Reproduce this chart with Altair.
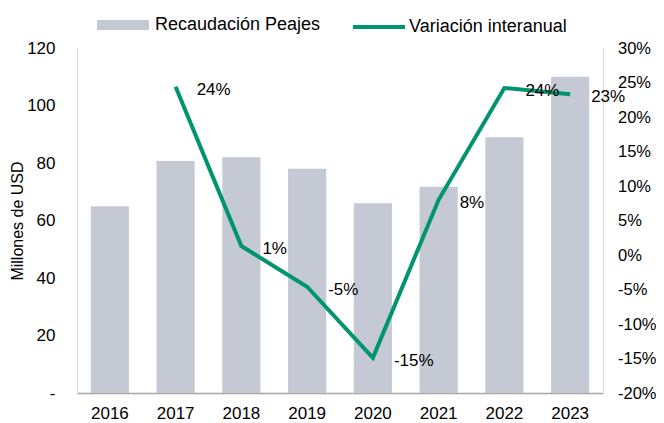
import altair as alt
import pandas as pd

years = ["2016", "2017", "2018", "2019", "2020", "2021", "2022", "2023"]
recaudacion = [65, 80.7, 82, 78, 66, 71.7, 89, 110]
var_years = ["2017", "2018", "2019", "2020", "2021", "2022", "2023"]
variacion = [0.244, 0.013, -0.046, -0.149, 0.08, 0.242, 0.233]
var_labels = ["24%", "1%", "-5%", "-15%", "8%", "24%", "23%"]
left_ticks = [0, 20, 40, 60, 80, 100, 120]
right_ticks = [-0.2, -0.15, -0.1, -0.05, 0, 0.05, 0.1, 0.15, 0.2, 0.25, 0.3]

bar_df = pd.DataFrame({"year": years, "value": recaudacion, "serie": "Recaudación Peajes"})
line_df = pd.DataFrame({"year": var_years, "var": variacion, "label": var_labels,
                        "serie": "Variación interanual"})

FONT = "Liberation Sans"
BAR_COLOR = "#c5c9d4"
LINE_COLOR = "#00956f"

x_enc = alt.X("year:N", sort=years, title=None,
              scale=alt.Scale(paddingInner=0.42, paddingOuter=0.21),
              axis=alt.Axis(labelAngle=0, labelFontSize=17, labelPadding=12, ticks=False,
                            domainColor="#a6a6a6", domainWidth=1.5, labelColor="#000000"))

bars = alt.Chart(bar_df).mark_bar(color=BAR_COLOR).encode(
    x=x_enc,
    y=alt.Y("value:Q", title="Millones de USD",
            scale=alt.Scale(domain=[0, 120]),
            axis=alt.Axis(values=left_ticks, grid=False, ticks=False,
                          labelOverlap=False,
                          labelExpr="datum.value == 0 ? '-' : datum.label",
                          labelFontSize=17, labelPadding=22, titleFontSize=16,
                          titleFontWeight="normal", titlePadding=1,
                          domainColor="#d9d9d9", labelColor="#000000", titleColor="#000000")),
    fill=alt.Fill("serie:N", scale=alt.Scale(domain=["Recaudación Peajes"], range=[BAR_COLOR]),
                  legend=alt.Legend(title=None, orient="none", legendX=20, legendY=-49,
                                    symbolType="M-1,-0.19 h2 v0.38 h-2 z", symbolSize=2704,
                                    symbolStrokeWidth=0, labelFontSize=18, labelOffset=6,
                                    labelLimit=400, labelColor="#000000")),
)

y_right = alt.Y("var:Q", title=None,
                scale=alt.Scale(domain=[-0.2, 0.3]),
                axis=alt.Axis(orient="right", format=".0%",
                              values=right_ticks,
                              labelExpr="replace(datum.label, '\u2212', '-')",
                              labelOverlap=False,
                              grid=False, ticks=False, labelFontSize=16.5, labelPadding=14.5,
                              domainColor="#d9d9d9", labelColor="#000000"))

line = alt.Chart(line_df).mark_line(color=LINE_COLOR, strokeWidth=4).encode(
    x=alt.X("year:N", sort=years),
    y=y_right,
    stroke=alt.Stroke("serie:N", scale=alt.Scale(domain=["Variación interanual"], range=[LINE_COLOR]),
                      legend=alt.Legend(title=None, orient="none", legendX=274, legendY=-49,
                                        symbolType="stroke", symbolSize=2704, symbolStrokeWidth=4,
                                        labelFontSize=18, labelOffset=2, labelLimit=400,
                                        labelColor="#000000")),
)

text = alt.Chart(line_df).mark_text(align="left", baseline="middle", dx=21, dy=3,
                                    fontSize=17, font=FONT, color="#000000").encode(
    x=alt.X("year:N", sort=years),
    y=y_right,
    text="label:N",
)

chart = alt.layer(bars, alt.layer(line, text)).resolve_scale(
    y="independent", fill="independent", stroke="independent"
).properties(
    width=526, height=345, autosize="none",
    padding={"left": 69, "top": 40, "right": 53, "bottom": 28},
).configure(font=FONT).configure_view(stroke=None).configure_axis(
    labelFont=FONT, titleFont=FONT
).configure_legend(labelFont=FONT)

chart.save("out.html", embed_options={"renderer": "svg", "actions": False})
